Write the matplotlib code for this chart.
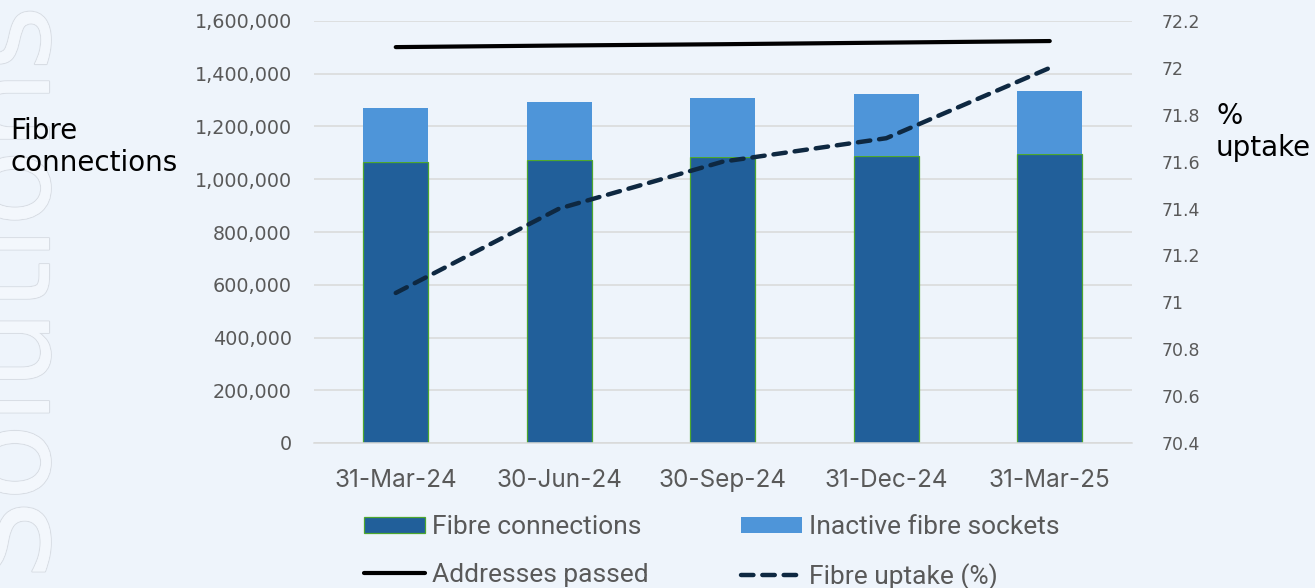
import matplotlib
matplotlib.use("Agg")
import matplotlib.pyplot as plt
import matplotlib.patheffects as pe
from matplotlib.ticker import FuncFormatter, MultipleLocator
import numpy as np

categories = ["31-Mar-24", "30-Jun-24", "30-Sep-24", "31-Dec-24", "31-Mar-25"]
fibre_connections = [1064000, 1073000, 1083000, 1087000, 1096000]
inactive_sockets = [208000, 219000, 224000, 235000, 237000]
addresses_passed = [1501000, 1507000, 1512000, 1518000, 1524000]
fibre_uptake = [71.04, 71.40, 71.60, 71.70, 72.00]

BG = "#EEF4FB"
DARK = "#215F9A"
LIGHT = "#4E95D9"
NAVY = "#0E2841"
GREEN = "#4EA72E"
GRID = "#D9D9D9"
TICK = "#595959"

fig = plt.figure(figsize=(13.15, 5.88), dpi=100, facecolor=BG)

# watermark (partly off the left edge, as in the reference)
wm = fig.text(75 / 1315, 1 - 580 / 588, "Solutions", rotation=90, fontsize=90,
              family="DejaVu Sans", color="#F3F7FC", ha="right", va="bottom", zorder=0)
wm.set_path_effects([pe.withStroke(linewidth=1.6, foreground="#D8DDE4"), pe.Normal()])

ax = fig.add_axes([314 / 1315, 1 - 443 / 588, (1131.5 - 314) / 1315, (443 - 21) / 588])
ax.set_facecolor("none")
x = np.arange(len(categories))

b_conn = ax.bar(x, fibre_connections, width=0.40, color=DARK, edgecolor=GREEN, linewidth=0.9,
                label="Fibre connections", zorder=2)
b_inac = ax.bar(x, inactive_sockets, width=0.40, bottom=fibre_connections, color=LIGHT,
                edgecolor="none", label="Inactive fibre sockets", zorder=2)
l_addr, = ax.plot(x, addresses_passed, color="black", linewidth=3.0, solid_capstyle="round",
                  label="Addresses passed", zorder=3)

ax.set_xlim(-0.5, len(categories) - 0.5)
ax.set_ylim(0, 1600000)
ax.yaxis.set_major_locator(MultipleLocator(200000))
ax.yaxis.set_major_formatter(FuncFormatter(lambda v, p: f"{int(v):,}"))
ax.grid(axis="y", color=GRID, linewidth=1.1, zorder=0)
ax.set_axisbelow(True)
for s in ["top", "right", "left"]:
    ax.spines[s].set_visible(False)
ax.spines["bottom"].set_color(GRID)
ax.spines["bottom"].set_linewidth(1.1)
ax.set_xticks(x)
ax.set_xticklabels(categories, family="Inter", fontsize=17.5, color=TICK)
ax.tick_params(axis="x", length=0, pad=19)
ax.tick_params(axis="y", length=0, pad=16, labelsize=13.8, labelcolor=TICK)
for t in ax.get_yticklabels():
    t.set_family("DejaVu Sans")

ax2 = ax.twinx()
ax2.set_facecolor("none")
l_upt, = ax2.plot(x, fibre_uptake, color=NAVY, linewidth=3.2, dashes=(2.8, 2.0),
                  dash_capstyle="round", label="Fibre uptake (%)", zorder=4)
ax2.set_ylim(70.4, 72.2)
ax2.yaxis.set_major_locator(MultipleLocator(0.2))
ax2.yaxis.set_major_formatter(FuncFormatter(lambda v, p: f"{v:.1f}".rstrip("0").rstrip(".")))
for s in ["top", "right", "left", "bottom"]:
    ax2.spines[s].set_visible(False)
ax2.tick_params(axis="y", length=0, pad=22, labelsize=12.5, labelcolor=TICK)

fig.text(10 / 1315, 1 - 147 / 588, "Fibre\nconnections", fontsize=20, family="DejaVu Sans",
         color="black", ha="left", va="center", linespacing=1.2)
fig.text(1216 / 1315, 1 - 132 / 588, "%\nuptake", fontsize=20, family="DejaVu Sans",
         color="black", ha="left", va="center", linespacing=1.2)

# column-wise fill: col 1 = connections, addresses; col 2 = inactive, uptake
handles = [b_conn, l_addr, b_inac, l_upt]
labels = [h.get_label() for h in handles]
leg = fig.legend(handles, labels, ncol=2, loc="upper left",
                 bbox_to_anchor=(353.5 / 1315, 1 - 504.5 / 588), frameon=False,
                 prop={"family": "Roboto", "size": 19}, labelcolor=TICK,
                 handlelength=2.3, handleheight=0.55, handletextpad=0.27,
                 columnspacing=3.5, labelspacing=0.9, borderaxespad=0)

fig.savefig("out.png", dpi=100, facecolor=BG)
